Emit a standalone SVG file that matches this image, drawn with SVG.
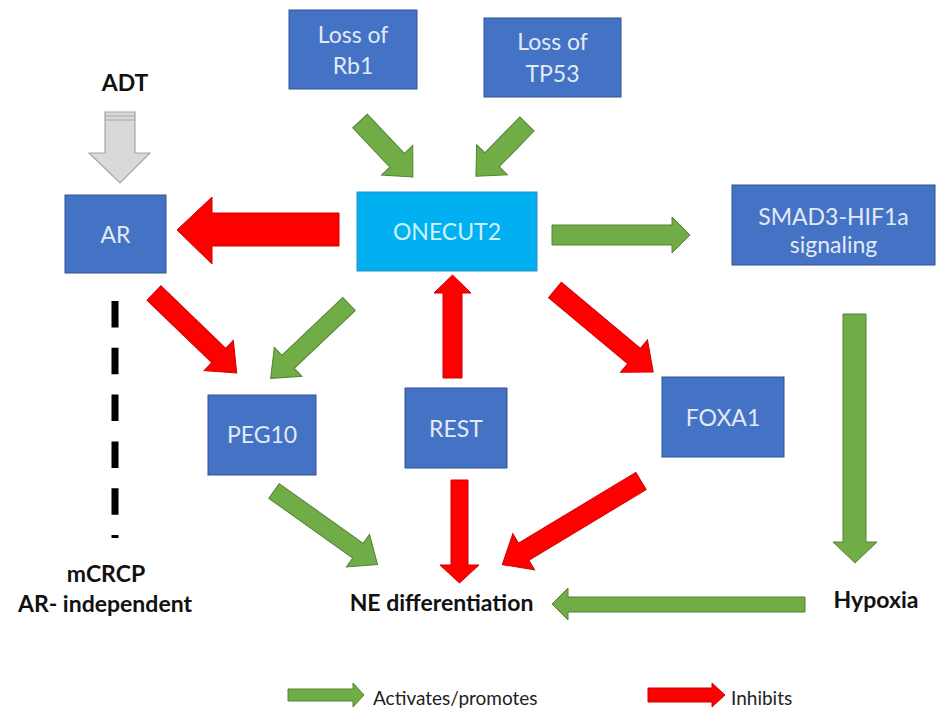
<svg xmlns="http://www.w3.org/2000/svg" width="937" height="713" viewBox="0 0 937 713">
<style>
.box{fill:#4472C4;stroke:#2F528F;stroke-width:1}
.cyan{fill:#00B0F0;stroke:#2F8FBF;stroke-width:1}
.bt{font-family:Lato,"Liberation Sans",sans-serif;font-size:23px;fill:#E2EAF7;text-anchor:middle}
.ct{font-family:Lato,"Liberation Sans",sans-serif;font-size:23px;fill:#CDF3FF;text-anchor:middle}
.lb{font-family:Lato,"Liberation Sans",sans-serif;font-size:23px;font-weight:bold;fill:#111;text-anchor:middle}
.lg{font-family:Lato,"Liberation Sans",sans-serif;font-size:19px;fill:#222}
.g{fill:#70AD47;stroke:#548235;stroke-width:1}
.r{fill:#FF0000;stroke:#D00000;stroke-width:1}
</style>
<rect width="937" height="713" fill="#fff"/>
<g id="connectors">
<polygon id="adt-arrow" points="105,112 135,112 135,153 150,153 120,183 89,153 105,153" fill="#D9D9D9" stroke="#A6A6A6" stroke-width="1.2"/>
<line x1="105" y1="116" x2="135" y2="116" stroke="#A6A6A6" stroke-width="1"/>
<line x1="105" y1="120" x2="135" y2="120" stroke="#A6A6A6" stroke-width="1"/>
<polygon class="g" transform="translate(360,121) rotate(46.6)" points="0,-10 54,-10 54,-21.5 77,0 54,21.5 54,10 0,10"/>
<polygon class="g" transform="translate(527,124) rotate(134.4)" points="0,-10 50,-10 50,-21.5 73,0 50,21.5 50,10 0,10"/>
<polygon class="g" points="552,225 672,225 672,217 690,235 672,253 672,245 552,245"/>
<polygon class="r" points="339,213 212,213 212,197 177,230 212,264 212,246 339,246"/>
<polygon class="r" transform="translate(154,293) rotate(44)" points="0,-10 90,-10 90,-21 115,0 90,21 90,10 0,10"/>
<polygon class="g" transform="translate(349,304) rotate(136.5)" points="0,-9 84,-9 84,-20 108,0 84,20 84,9 0,9"/>
<polygon class="g" transform="translate(274,491) rotate(35.4)" points="0,-9 103,-9 103,-20 127,0 103,20 103,9 0,9"/>
<polygon class="r" transform="translate(555,290) rotate(39.9)" points="0,-10 103,-10 103,-21 128,0 103,21 103,10 0,10"/>
<polygon class="r" transform="translate(641,481) rotate(148.9)" points="0,-10 137,-10 137,-21 162,0 137,21 137,10 0,10"/>
<polygon class="r" points="443,378 443,293 434,293 452.5,275 471,293 462,293 462,378"/>
<polygon class="r" points="451,480 451,565 440,565 459.5,583 479,565 468,565 468,480"/>
<polygon class="g" points="843,314 843,542 833,542 855,563 877,542 866,542 866,314"/>
<polygon class="g" points="805,597 568,597 568,588 552,604 568,620 568,612 805,612"/>
<line id="ar-dash" x1="115" y1="301" x2="115" y2="538" stroke="#000" stroke-width="7" stroke-dasharray="26.5 20.3"/>
</g>
<g id="rb1"><rect class="box" x="289" y="10" width="128" height="79"/><text class="bt" x="353" y="43">Loss of</text><text class="bt" x="353" y="74">Rb1</text></g>
<g id="tp53"><rect class="box" x="484" y="18" width="137" height="79"/><text class="bt" x="552.5" y="50">Loss of</text><text class="bt" x="552.5" y="82">TP53</text></g>
<g id="onecut2"><rect class="cyan" x="357" y="192" width="180" height="79"/><text class="ct" x="447" y="240">ONECUT2</text></g>
<g id="ar"><rect class="box" x="65" y="195" width="101" height="78"/><text class="bt" x="115.5" y="243">AR</text></g>
<g id="smad3"><rect class="box" x="732" y="185" width="203" height="80"/><text class="bt" x="833.5" y="225">SMAD3-HIF1a</text><text class="bt" x="833.5" y="253">signaling</text></g>
<g id="peg10"><rect class="box" x="208" y="395" width="108" height="80"/><text class="bt" x="262" y="443">PEG10</text></g>
<g id="rest"><rect class="box" x="405" y="388" width="102" height="80"/><text class="bt" x="456" y="437">REST</text></g>
<g id="foxa1"><rect class="box" x="662" y="377" width="122" height="80"/><text class="bt" x="723" y="426">FOXA1</text></g>
<g id="adt"><text class="lb" x="125" y="91">ADT</text></g>
<g id="mcrcp"><text class="lb" x="106" y="582">mCRCP</text><text class="lb" x="105" y="612">AR- independent</text></g>
<g id="ne"><text class="lb" x="441.5" y="611">NE differentiation</text></g>
<g id="hypoxia"><text class="lb" x="876" y="608">Hypoxia</text></g>
<g id="legend">
<polygon class="g" points="288,689 353,689 353,683 364,695 353,707 353,701 288,701"/>
<text class="lg" x="373" y="705">Activates/promotes</text>
<polygon class="r" points="648,688 712,688 712,683 725,695 712,707 712,702 648,702"/>
<text class="lg" x="731" y="705">Inhibits</text>
</g>
</svg>
